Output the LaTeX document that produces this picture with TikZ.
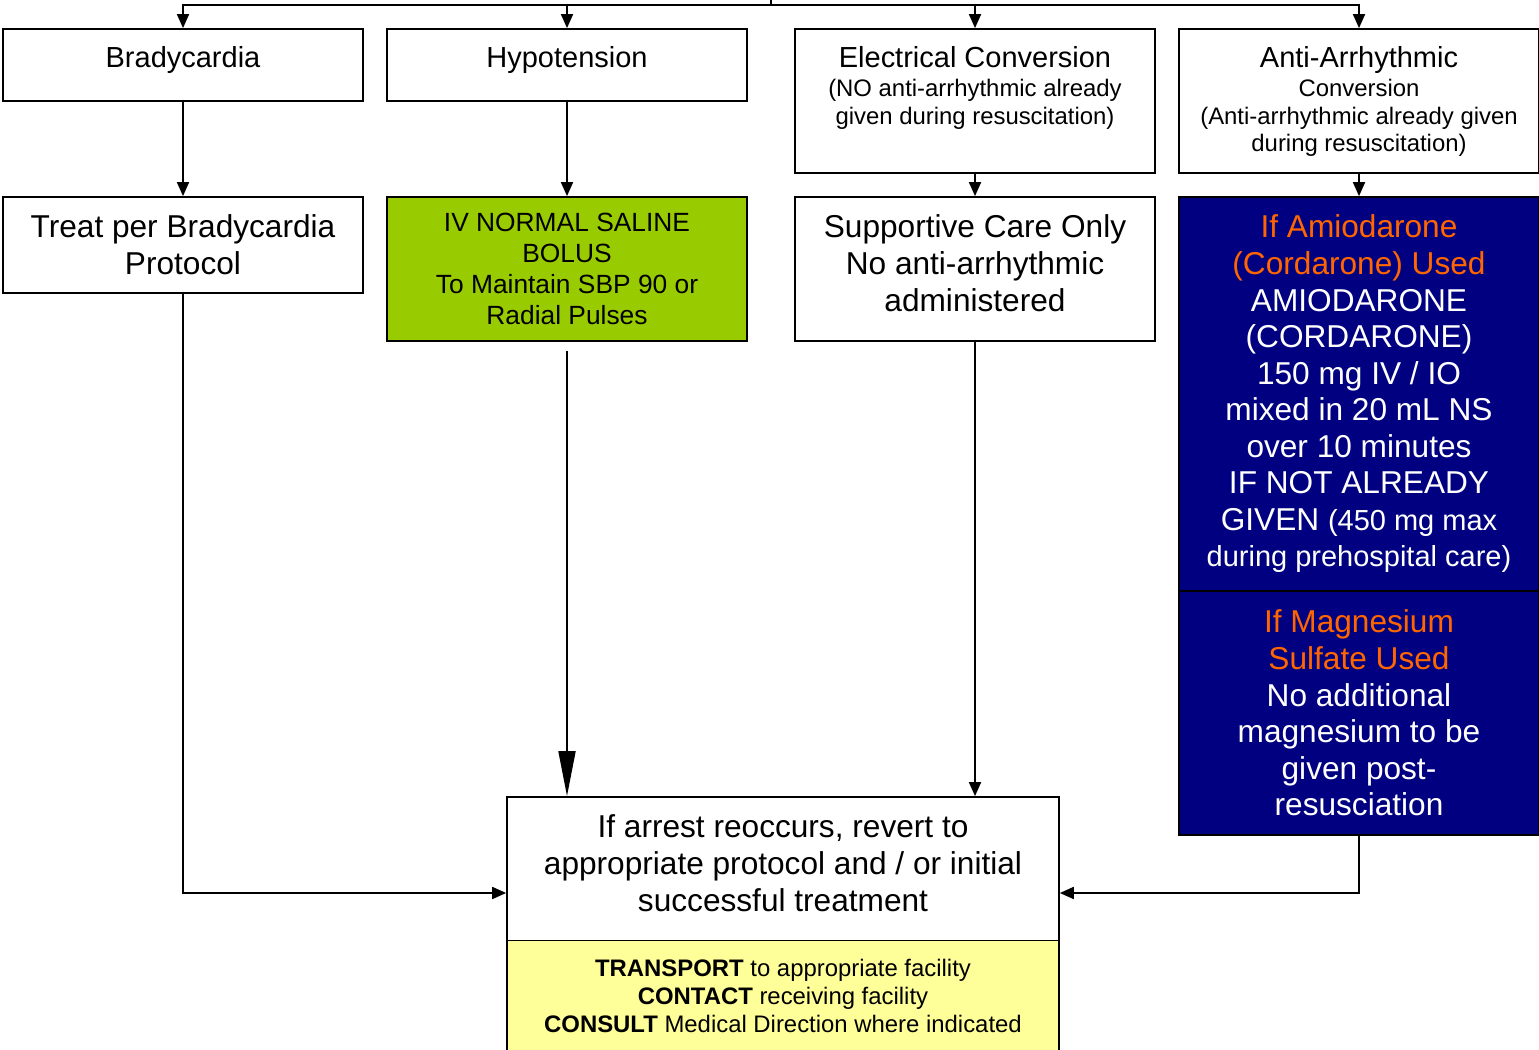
\documentclass[tikz,border=0pt]{standalone}
\usepackage{fontspec}
\setmainfont{Liberation Sans}
\usetikzlibrary{arrows.meta}
\definecolor{navybox}{HTML}{000080}
\definecolor{limebox}{HTML}{99CC00}
\definecolor{paleyellow}{HTML}{FFFF99}
\definecolor{alertorange}{HTML}{FF6600}
\newcommand{\bigtxt}{\fontsize{18}{21}\selectfont}
\newcommand{\medtxt}{\fontsize{16.5}{19}\selectfont}
\newcommand{\smalltxt}{\fontsize{13.6}{15.5}\selectfont}
\begin{document}
\begin{tikzpicture}[x=0.02cm, y=-0.02cm, >={Triangle[length=0.28cm,width=0.24cm]}, line width=1pt]
    \tikzset{box/.style={draw, minimum width=7.2cm, text width=6.9cm, inner xsep=0.15cm, align=flush center, font=\bigtxt},
      topbox/.style={box, inner ysep=0pt, text height=0.77cm, font=\medtxt},
      threeline/.style={box, inner ysep=0pt, text height=0.81cm, text depth=2.07cm},
      drugbox/.style={box, fill=navybox, text=white, font=\fontsize{18}{20.8}\selectfont},
      widebox/.style={minimum width=11.04cm, text width=10.7cm}}
    \useasboundingbox (0,0) rectangle (1539,1050);
    \node[topbox, text depth=0.67cm] (brady) at (183,65) {Bradycardia};
    \node[topbox, text depth=0.67cm] (hypo) at (567,65) {Hypotension};
    \node[topbox, text depth=2.11cm] (elec) at (975,101) {Electrical Conversion\\[1.2pt]\smalltxt (NO anti-arrhythmic already\\given during resuscitation)\par};
    \node[topbox, text depth=2.11cm] (anti) at (1359,101) {Anti-Arrhythmic\\[1.2pt]\smalltxt Conversion\\(Anti-arrhythmic already given\\during resuscitation)\par};
    \node[box, minimum height=1.92cm] (treat) at (183,245) {Treat per Bradycardia\\Protocol};
    \node[box, minimum height=2.88cm, fill=limebox, font=\fontsize{15}{17.7}\selectfont] (saline) at (567,269) {IV NORMAL SALINE\\BOLUS\\To Maintain SBP 90 or\\Radial Pulses};
    \node[threeline] (support) at (975,269) {Supportive Care Only\\No anti-arrhythmic\\administered};
    \node[drugbox, minimum height=7.88cm] (amio) at (1359,394) {\color{alertorange}If Amiodarone\\(Cordarone) Used\\\color{white}AMIODARONE\\(CORDARONE)\\150 mg IV / IO\\mixed in 20 mL NS\\over 10 minutes\\IF NOT ALREADY\\GIVEN \fontsize{16.5}{20.8}\selectfont(450 mg max\\during prehospital care)\par};
    \node[drugbox, minimum height=4.88cm] (magn) at (1359,713) {\color{alertorange}If Magnesium\\Sulfate Used\\\color{white}No additional\\magnesium to be\\given post-\\resusciation};
    \node[threeline, widebox] (revert) at (783,869) {If arrest reoccurs, revert to\\appropriate protocol and / or initial\\successful treatment};
    \node[box, widebox, minimum height=2.22cm, fill=paleyellow, font=\fontsize{13.6}{15.9}\selectfont] (transport) at (783,996) {\textbf{TRANSPORT} to appropriate facility\\\textbf{CONTACT} receiving facility\\\textbf{CONSULT} Medical Direction where indicated};
    \coordinate (src) at (771,-10);
    \coordinate (bus) at (771,5);
    \draw (src) -- (bus);
    \foreach \n in {brady,hypo,elec,anti}
      \draw[->] (bus) -| (\n.north);
    \draw[->] (brady) -- (treat);
    \draw[->] (hypo) -- (saline);
    \draw[->] (elec) -- (support);
    \draw[->] (anti) -- (amio);
    \draw[->, >={Triangle[length=0.9cm,width=0.34cm]}] ([yshift=-0.18cm]saline.south) -- (saline.south |- revert.north);
    \draw[->] (support.south) -- (support.south |- revert.north);
    \draw[->] (treat.south) |- ([yshift=-0.48cm]revert.west);
    \draw[->] (magn.south) |- ([yshift=-0.48cm]revert.east);
\end{tikzpicture}
\end{document}
